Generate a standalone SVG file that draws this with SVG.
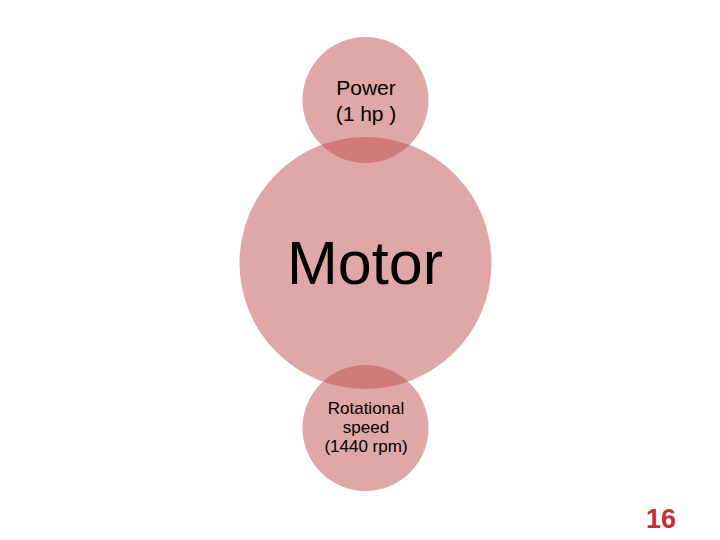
<svg xmlns="http://www.w3.org/2000/svg" width="720" height="540" viewBox="0 0 720 540">
<style>
.c{fill:#C0504D;fill-opacity:0.5}
.t{font-family:"Liberation Sans",Arial,sans-serif;fill:#000;text-anchor:middle}
</style>
<rect width="720" height="540" fill="#fff"/>
<g id="connectors"/>
<g id="power">
<circle class="c" cx="365.5" cy="100" r="63"/>
<text class="t" x="366" y="95" font-size="21">Power</text>
<text class="t" x="366" y="121" font-size="21">(1 hp )</text>
</g>
<g id="motor">
<circle class="c" cx="365.5" cy="263" r="126"/>
<text class="t" x="365" y="284" font-size="61">Motor</text>
</g>
<g id="speed">
<circle class="c" cx="365.5" cy="428" r="63"/>
<text class="t" x="366" y="414" font-size="17">Rotational</text>
<text class="t" x="366" y="433" font-size="17">speed</text>
<text class="t" x="366" y="452" font-size="17">(1440 rpm)</text>
</g>
<g id="page">
<text x="661" y="528" font-family="'Liberation Sans',Arial,sans-serif" font-size="27" font-weight="bold" fill="#c83030" text-anchor="middle">16</text>
</g>
</svg>
